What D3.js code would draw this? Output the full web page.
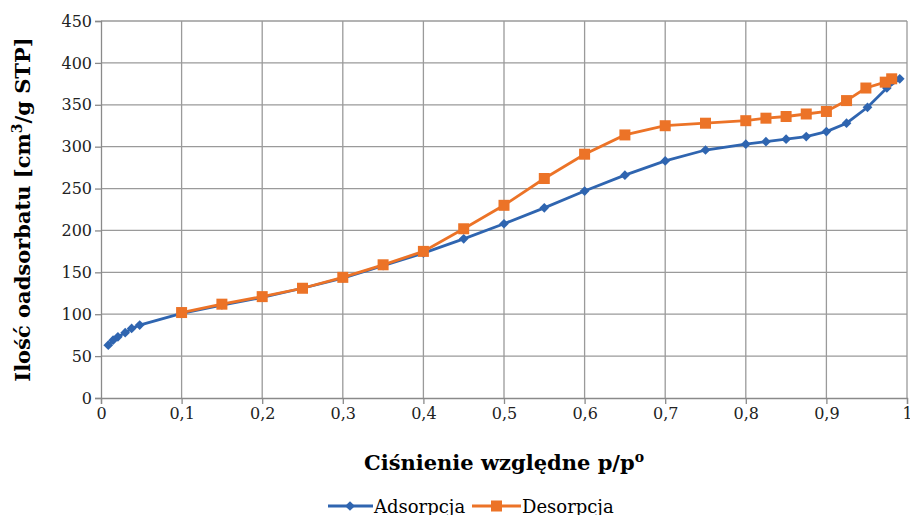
<!DOCTYPE html>
<html>
<head>
<meta charset="utf-8">
<script src="https://cdn.jsdelivr.net/npm/d3@7"></script>
<style>
body { margin: 0; background: #fff; }
</style>
</head>
<body>
<div id="container"></div>
<script>

// adsorption branch
var adsP = [0.009, 0.015, 0.021, 0.03, 0.038, 0.048, 0.1, 0.15, 0.2, 0.25, 0.3, 0.35, 0.4, 0.45, 0.5, 0.55, 0.6, 0.65, 0.7, 0.75, 0.8, 0.825, 0.85, 0.875, 0.9, 0.925, 0.951, 0.975, 0.991];
var adsV = [63, 69, 73, 78, 83, 87, 101, 111, 120, 131, 143, 158, 173, 190, 208, 227, 247, 266, 283, 296, 303, 306, 309, 312, 318, 328, 347, 370, 381];

// desorption branch
var desP = [0.1, 0.15, 0.2, 0.25, 0.3, 0.35, 0.4, 0.45, 0.5, 0.55, 0.6, 0.65, 0.7, 0.75, 0.8, 0.825, 0.85, 0.875, 0.9, 0.925, 0.949, 0.973, 0.981];
var desV = [102, 112, 121, 131, 144, 159, 175, 202, 230, 262, 291, 314, 325, 328, 331, 334, 336, 339, 342, 355, 370, 377, 381];

var xTicks = [0, 0.1, 0.2, 0.3, 0.4, 0.5, 0.6, 0.7, 0.8, 0.9, 1];
var yTicks = [0, 50, 100, 150, 200, 250, 300, 350, 400, 450];

var blue = "#2f65b0";
var orange = "#ec7327";
var serif = "DejaVu Serif";

function render() {
	var width = 910, height = 515;
	var margin = {left:101, top:21, right:3, bottom:117};
	var cWidth = width - margin.left - margin.right;
	var cHeight = height - margin.top - margin.bottom;

	var svg = d3.select("#container")
		.append("svg")
		.attr("width", width)
		.attr("height", height)
		.style("font-family", serif);

	var g = svg.append("g")
		.attr("transform", "translate(" + margin.left + "," + margin.top + ")");

	var x = d3.scaleLinear().domain([0, 1]).range([0, cWidth]);
	var y = d3.scaleLinear().domain([0, 450]).range([cHeight, 0]);

	// grid
	g.selectAll(".vgrid").data(xTicks.slice(1)).enter()
		.append("line")
		.attr("x1", d => x(d)).attr("x2", d => x(d))
		.attr("y1", 0).attr("y2", cHeight)
		.attr("stroke", "#9a9a9a").attr("stroke-width", 1.3);
	g.selectAll(".hgrid").data(yTicks.slice(1)).enter()
		.append("line")
		.attr("x1", 0).attr("x2", cWidth)
		.attr("y1", d => y(d)).attr("y2", d => y(d))
		.attr("stroke", "#9a9a9a").attr("stroke-width", 1.3);

	// axes
	var xAxis = g.append("g")
		.attr("transform", "translate(0," + cHeight + ")")
		.call(d3.axisBottom(x).tickValues(xTicks).tickSize(6).tickPadding(4)
			.tickFormat(d => d === 0 ? "0" : d === 1 ? "1" : String(d).replace(".", ",")));
	var yAxis = g.append("g")
		.call(d3.axisLeft(y).tickValues(yTicks).tickSize(6).tickPadding(3));

	[xAxis, yAxis].forEach(a => {
		a.attr("font-family", null).attr("font-size", null);
		a.selectAll("text").style("font-family", serif).style("font-size", "16px").attr("fill", "#222");
		a.select(".domain").attr("stroke", "#8a8a8a").attr("stroke-width", 1.3);
		a.selectAll(".tick line").attr("stroke", "#8a8a8a").attr("stroke-width", 1.3);
	});

	var line = d3.line().x(d => x(d[0])).y(d => y(d[1]));
	var ads = d3.zip(adsP, adsV);
	var des = d3.zip(desP, desV);

	g.append("path").datum(ads).attr("d", line)
		.attr("fill", "none").attr("stroke", blue).attr("stroke-width", 2.8);
	g.append("path").datum(des).attr("d", line)
		.attr("fill", "none").attr("stroke", orange).attr("stroke-width", 2.8);

	g.selectAll(".dia").data(ads).enter()
		.append("path")
		.attr("d", d3.symbol().type(d3.symbolDiamond2).size(60))
		.attr("transform", d => "translate(" + x(d[0]) + "," + y(d[1]) + ")")
		.attr("fill", blue);
	g.selectAll(".sq").data(des).enter()
		.append("rect")
		.attr("x", d => x(d[0]) - 5.5).attr("y", d => y(d[1]) - 5.5)
		.attr("width", 11).attr("height", 11)
		.attr("fill", orange);

	// titles
	svg.append("text")
		.attr("x", margin.left + cWidth / 2).attr("y", 470)
		.attr("text-anchor", "middle")
		.style("font-family", serif).style("font-size", "21px").style("font-weight", "bold")
		.html("Ciśnienie względne p/p<tspan dy='-8' font-size='14'>o</tspan>");

	svg.append("text")
		.attr("transform", "translate(30," + (margin.top + cHeight / 2) + ") rotate(-90)")
		.attr("text-anchor", "middle")
		.style("font-family", serif).style("font-size", "21px").style("font-weight", "bold")
		.html("Ilość oadsorbatu [cm<tspan dy='-8' font-size='14'>3</tspan><tspan dy='8'>/g STP]</tspan>");

	// legend
	var leg = svg.append("g").attr("transform", "translate(0,506)");
	leg.append("line").attr("x1", 328).attr("x2", 373).attr("y1", 0).attr("y2", 0)
		.attr("stroke", blue).attr("stroke-width", 2.8);
	leg.append("path").attr("d", d3.symbol().type(d3.symbolDiamond2).size(60))
		.attr("transform", "translate(350,0)").attr("fill", blue);
	leg.append("text").attr("x", 374).attr("y", 7).style("font-family", serif).style("font-size", "18px").text("Adsorpcja");
	leg.append("line").attr("x1", 472).attr("x2", 521).attr("y1", 0).attr("y2", 0)
		.attr("stroke", orange).attr("stroke-width", 2.8);
	leg.append("rect").attr("x", 491).attr("y", -5.5).attr("width", 11).attr("height", 11).attr("fill", orange);
	leg.append("text").attr("x", 522).attr("y", 7).style("font-family", serif).style("font-size", "18px").text("Desorpcja");
}

render();
</script>
</body>
</html>
